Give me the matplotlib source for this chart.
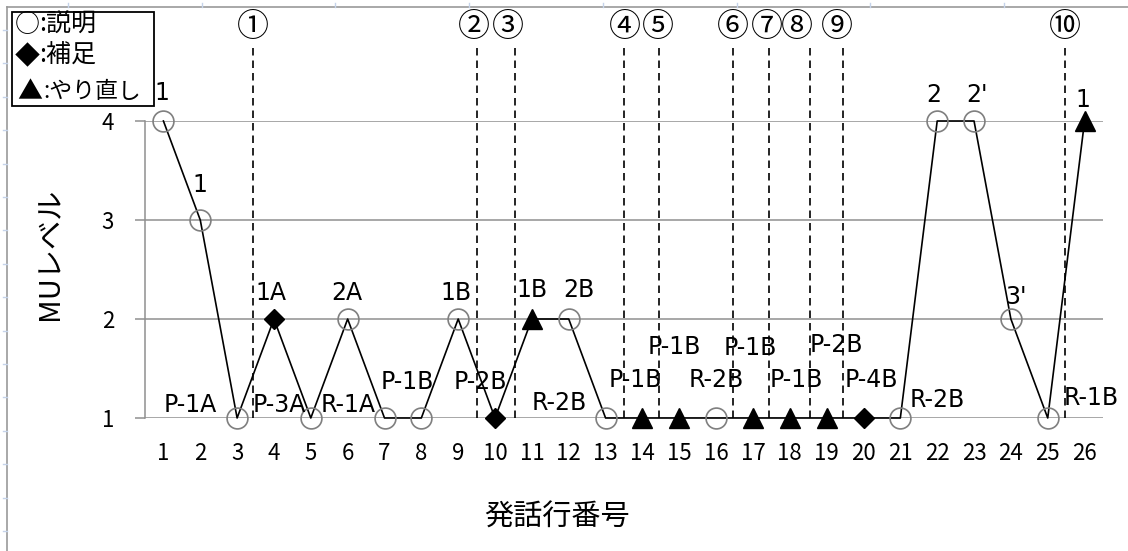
import matplotlib
matplotlib.use("Agg")
import matplotlib.pyplot as plt
from matplotlib.lines import Line2D
from matplotlib.patches import Rectangle

plt.rcParams['font.family'] = ['Noto Sans CJK JP', 'DejaVu Sans']

# Utterance line numbers and MU level per line
line_no = list(range(1, 27))
mu_level = [4, 3, 1, 2, 1, 2, 1, 1, 2, 1, 2, 2, 1, 1, 1, 1, 1, 1, 1, 1, 1, 4, 4, 2, 1, 4]
# utterance type: E = 説明 (explanation), S = 補足 (supplement), R = やり直し (redo)
utt_type = ['E', 'E', 'E', 'S', 'E', 'E', 'E', 'E', 'E', 'S', 'R', 'E', 'E',
            'R', 'R', 'E', 'R', 'R', 'R', 'S', 'E', 'E', 'E', 'E', 'E', 'R']

# Point annotations (text, x, y) in data coordinates
point_labels = [
    ("1", 0.95, 4.28), ("1", 2.0, 3.35), ("P-1A", 1.73, 1.13),
    ("1A", 3.91, 2.26), ("P-3A", 4.15, 1.13), ("2A", 5.97, 2.26),
    ("R-1A", 6.0, 1.13), ("P-1B", 7.63, 1.36), ("1B", 8.93, 2.26),
    ("P-2B", 9.61, 1.36), ("1B", 11.0, 2.29), ("2B", 12.28, 2.29),
    ("R-2B", 11.73, 1.15), ("P-1B", 13.8, 1.38), ("P-1B", 14.86, 1.72),
    ("R-2B", 16.0, 1.38), ("P-1B", 16.92, 1.71), ("P-1B", 18.17, 1.38),
    ("P-2B", 19.26, 1.74), ("P-4B", 20.21, 1.38), ("R-2B", 22.0, 1.18),
    ("2", 21.92, 4.26), ("2'", 23.09, 4.26), ("3'", 24.15, 2.22),
    ("1", 25.95, 4.21), ("R-1B", 26.19, 1.2),
]

# Event markers: circled number, label x, dashed-line x
event_names = ["①", "②", "③", "④", "⑤", "⑥", "⑦", "⑧", "⑨", "⑩"]
event_label_x = [3.42, 9.42, 10.35, 13.53, 14.42, 16.46, 17.39, 18.2, 19.29, 25.46]
event_line_x = [3.42, 9.5, 10.54, 13.5, 14.45, 16.46, 17.44, 18.55, 19.45, 25.46]

# Legend entries: symbol, description
legend_symbols = ["○", "◆", "▲"]
legend_texts = ["説明", "補足", "やり直し"]

W, H = 1128, 551
fig = plt.figure(figsize=(W / 100, H / 100), dpi=100)
ax = fig.add_axes([145 / W, (H - 418) / H, (1103 - 145) / W, (418 - 121) / H])

ax.set_xlim(0.5, 26.5)
ax.set_ylim(1, 4)
ax.set_yticks([1, 2, 3, 4])
ax.set_xticks(line_no)
ax.set_xticklabels([str(v) for v in line_no])

grid_c = '#8f8f8f'
for s in ['top', 'right', 'bottom']:
    ax.spines[s].set_visible(False)
ax.spines['left'].set_color(grid_c)
ax.spines['left'].set_linewidth(1.1)
ax.yaxis.grid(True, color=grid_c, linewidth=1.1)
ax.set_axisbelow(True)
ax.tick_params(axis='y', direction='out', length=7.2, width=1.1, color=grid_c,
               labelsize=16, pad=15)
ax.tick_params(axis='x', length=0, labelsize=16, pad=17)

# connecting line
ax.plot(line_no, mu_level, color='black', lw=1.2, zorder=3, clip_on=False)

# markers by utterance type
styles = {
    'E': dict(marker='o', ms=15, mfc='none', mec='#7f7f7f', mew=1.2),
    'S': dict(marker='D', ms=10, mfc='black', mec='black', mew=1),
    'R': dict(marker='^', ms=14.5, mfc='black', mec='black', mew=1),
}
for t, st in styles.items():
    xs = [x for x, u in zip(line_no, utt_type) if u == t]
    ys = [y for y, u in zip(mu_level, utt_type) if u == t]
    ax.plot(xs, ys, ls='none', zorder=4, clip_on=False, **st)

for txt, x, y in point_labels:
    ax.text(x, y, txt, fontsize=17, family='DejaVu Sans', ha='center',
            va='center', zorder=5)

# dashed event lines with circled numbers
for name, lx, vx in zip(event_names, event_label_x, event_line_x):
    ax.plot([vx, vx], [1, 4.77], color='black', lw=1.2, ls=(0, (4.5, 3)),
            clip_on=False, zorder=2)
    ax.text(lx, 4.95, name, fontsize=23, ha='center', va='center', clip_on=False)

fig.text(50 / W, 1 - 254 / H, "MUレベル", rotation=90, fontsize=21,
         ha='center', va='center')
fig.text(557 / W, 1 - 518 / H, "発話行番号", fontsize=21, ha='center', va='center')

# legend box
fig.add_artist(Rectangle((12 / W, 1 - 106 / H), (154 - 12) / W, (106 - 12) / H,
                         transform=fig.transFigure, fill=False,
                         edgecolor='black', lw=1.3))
sym_pos = [(15, 25), (15, 57), (17, 92)]
txt_pos = [(39, 25), (39, 56), (43, 92)]
txt_size = [18, 18, 16.5]
for sym, txt, (sx, sy), (tx, ty), fs in zip(legend_symbols, legend_texts,
                                            sym_pos, txt_pos, txt_size):
    fig.text(sx / W, 1 - sy / H, sym, fontsize=18, ha='left', va='center')
    fig.text(tx / W, 1 - ty / H, ":" + txt, fontsize=fs, ha='left', va='center')

# outer frame with small ruler ticks
frame_c = '#9a9a9a'
fig.add_artist(Line2D([7 / W, 1], [1 - 7 / H, 1 - 7 / H], color=frame_c, lw=1.2,
                      transform=fig.transFigure))
fig.add_artist(Line2D([7 / W, 7 / W], [0, 1 - 7 / H], color=frame_c, lw=1.2,
                      transform=fig.transFigure))
tick_c = '#c5d3ea'
px = 68.0
while px < W:
    fig.add_artist(Line2D([px / W, px / W], [1 - 3 / H, 1 - 7 / H], color=tick_c,
                          lw=1, transform=fig.transFigure))
    px += 133.7
py = 30.0
while py < H:
    fig.add_artist(Line2D([3 / W, 7 / W], [1 - py / H, 1 - py / H], color=tick_c,
                          lw=1, transform=fig.transFigure))
    py += 33.4

fig.savefig("out.png", dpi=100, facecolor='white')
